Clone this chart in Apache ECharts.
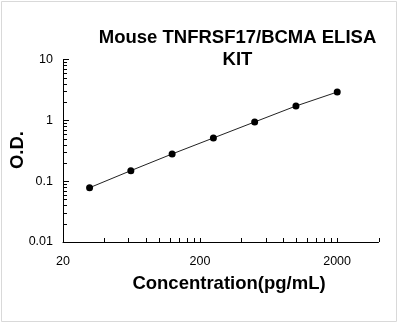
<!DOCTYPE html>
<html>
<head>
<meta charset="utf-8">
<style>
html,body{margin:0;padding:0;background:#fff;}
#chart{width:398px;height:323px;}
</style>
<script src="https://cdn.jsdelivr.net/npm/echarts@6/dist/echarts.min.js"></script>
</head>
<body>
<div id="chart"></div>
<script>
const chartTitle = ['Mouse TNFRSF17/BCMA ELISA', 'KIT'];
const xAxisTitle = 'Concentration(pg/mL)';
const yAxisTitle = 'O.D.';
const concentration = [31.25, 62.5, 125, 250, 500, 1000, 2000];
const od = [0.078, 0.149, 0.28, 0.513, 0.94, 1.72, 2.92];
const xTickLabels = [20, 200, 2000];
const yTickLabels = [0.01, 0.1, 1, 10];
const xMin = 20, xMax = 4000;
const yMin = 0.01, yMax = 10;
const xMinorTicks = [40, 60, 80, 100, 120, 140, 160, 180, 400, 600, 800, 1000, 1200, 1400, 1600, 1800, 4000];
const yMinorTicks = [0.02, 0.03, 0.04, 0.05, 0.06, 0.07, 0.08, 0.09, 0.2, 0.3, 0.4, 0.5, 0.6, 0.7, 0.8, 0.9, 2, 3, 4, 5, 6, 7, 8, 9];

const chart = echarts.init(document.getElementById('chart'), null, {renderer: 'canvas'});
const labelFont = {fontFamily: 'Liberation Sans, Arial, sans-serif', fontSize: 12.5, color: '#000'};
const titleFont = 'bold 18.5px "Liberation Sans", Arial, sans-serif';

function fmt(v, list) {
  for (const t of list) { if (Math.abs(v - t) / t < 0.01) return String(t); }
  return '';
}

const option = {
  animation: false,
  backgroundColor: '#fff',
  grid: {left: 63, right: 19.5, top: 59.5, bottom: 81, containLabel: false},
  xAxis: {
    type: 'log', logBase: 10, min: xMin, max: xMax, interval: 1,
    axisLine: {show: true, onZero: false, lineStyle: {color: '#000', width: 1}},
    axisTick: {show: true, inside: true, length: 4, lineStyle: {color: '#000'}},
    axisLabel: Object.assign({margin: 13, showMaxLabel: false, formatter: v => fmt(v, xTickLabels)}, labelFont),
    splitLine: {show: false}
  },
  yAxis: {
    type: 'log', logBase: 10, min: yMin, max: yMax, interval: 1,
    axisLine: {show: true, onZero: false, lineStyle: {color: '#000', width: 1}},
    axisTick: {show: true, inside: true, length: 6, lineStyle: {color: '#000'}},
    axisLabel: Object.assign({margin: 10, formatter: v => fmt(v, yTickLabels)}, labelFont),
    splitLine: {show: false}
  },
  graphic: [
    {type: 'rect', silent: true, shape: {x: 1.5, y: 1.5, width: 395, height: 320}, style: {fill: null, stroke: '#d9d9d9', lineWidth: 1}},
    {type: 'text', x: 237.5, y: 38, style: {text: chartTitle[0], font: titleFont, fill: '#000', align: 'center', verticalAlign: 'middle'}},
    {type: 'text', x: 237.5, y: 60, style: {text: chartTitle[1], font: titleFont, fill: '#000', align: 'center', verticalAlign: 'middle'}},
    {type: 'text', x: 229, y: 283.5, style: {text: xAxisTitle, font: titleFont, fill: '#000', align: 'center', verticalAlign: 'middle'}},
    {type: 'text', x: 17.5, y: 150, rotation: Math.PI / 2, style: {text: yAxisTitle, font: titleFont, fill: '#000', align: 'center', verticalAlign: 'middle'}}
  ],
  series: [
    {
      type: 'custom', silent: true, clip: false, z: 3,
      data: xMinorTicks.map(v => [v, yMin]),
      renderItem: function (params, api) {
        const p = api.coord([api.value(0), api.value(1)]);
        const x = Math.round(p[0]) + 0.5;
        return {type: 'line', shape: {x1: x, y1: p[1], x2: x, y2: p[1] - 4}, style: {stroke: '#000', lineWidth: 1}};
      }
    },
    {
      type: 'custom', silent: true, clip: false, z: 3,
      data: yMinorTicks.map(v => [xMin, v]),
      renderItem: function (params, api) {
        const p = api.coord([api.value(0), api.value(1)]);
        const y = Math.round(p[1]) + 0.5;
        return {type: 'line', shape: {x1: p[0], y1: y, x2: p[0] + 4, y2: y}, style: {stroke: '#000', lineWidth: 1}};
      }
    },
    {
      type: 'line', z: 4,
      data: concentration.map((c, i) => [c, od[i]]),
      symbol: 'circle', symbolSize: 7,
      itemStyle: {color: '#000'},
      lineStyle: {color: '#222', width: 1}
    }
  ]
};
chart.setOption(option);
</script>
</body>
</html>
